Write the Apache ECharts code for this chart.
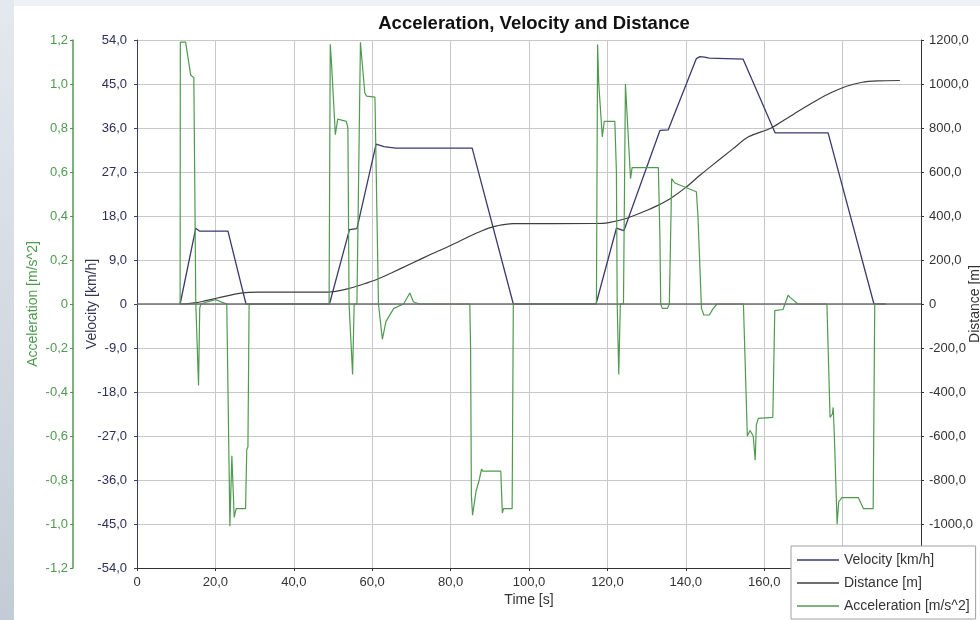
<!DOCTYPE html>
<html><head><meta charset="utf-8">
<script src="https://cdn.jsdelivr.net/npm/echarts@6/dist/echarts.min.js"></script>
<style>html,body{margin:0;padding:0;background:#fff}#c{width:980px;height:620px}</style>
</head><body><div id="c"></div>
<script>
// ---- data: [time s, value] ----
const velocityPoints = [
  [11.0,0],[15.0,15.5],[16.0,14.9],[23.2,14.9],[27.8,0],[31,0],[49.1,0],
  [54.2,15.2],[56.1,15.4],[61.0,32.7],[63,32.2],[66,31.9],[85.5,31.9],[96.0,0],
  [117.1,0],[122.3,15.5],[124.2,15.0],[133.4,35.5],[135.5,35.6],[142.7,50.2],
  [143.6,50.6],[144.8,50.5],[146,50.3],[154.6,50.1],[162.8,35.0],[176.3,35.0],
  [188.0,0],[191,0]
];
const distancePoints = [
  [11,0],[13,2],[15,6],[17,13],[20,25],[23,37],[25,45],[27,51],[28.5,53],[31,54],
  [49,54],[52,62],[55,75],[58,92],[61,110],[65,142],[70,184],[75,226],[80,266],
  [85,309],[88,333],[91,352],[94,362],[96,365],[117,366],[120,369],[125,390],
  [130,425],[133.4,453],[136,478],[140,530],[143.6,585],[146,620],[152,705],
  [156,760],[161.8,800],[165,835],[169,880],[173,922],[177,960],[181,990],
  [185,1008],[189,1014],[194.6,1016]
];
const accelerationPoints = [
  [11.0,0],[11.05,1.19],[12.4,1.19],[13.7,1.04],[14.2,1.04],[14.5,1.03],[14.9,1.03],
  [15.0,0],[15.7,-0.37],[16.0,-0.02],[16.3,0],[18,0.01],[20,0.02],[22.9,0],
  [23.7,-1.01],[24.2,-0.69],[24.5,-0.69],[24.8,-0.97],[25.3,-0.93],[27.7,-0.93],
  [28.0,-0.66],[28.3,-0.65],[28.6,0],
  [49.0,0],[49.3,1.18],[49.6,1.1],[50.6,0.77],[51.2,0.84],[53.4,0.83],[53.8,0.80],
  [54.1,0],[55.0,-0.32],[55.4,0],[56.1,0],[57.0,1.19],[58.1,0.96],[58.6,0.945],
  [60.7,0.94],[61.6,0],[62.6,-0.16],[63.5,-0.08],[65.5,-0.02],[68,0],[69.6,0.05],
  [70.5,0.01],[72,0],
  [84.9,0],[85.1,-0.2],[85.3,-0.87],[85.6,-0.96],[86.5,-0.85],[87.3,-0.80],
  [87.9,-0.75],[88.2,-0.76],[92.8,-0.76],[93.2,-0.95],[93.5,-0.93],[95.7,-0.93],[96.0,0],
  [117.2,0],[117.5,1.18],[117.8,1.0],[118.7,0.76],[119.2,0.83],[121.9,0.83],
  [122.3,0.6],[122.5,0],[122.9,-0.32],[123.3,0],[124.1,0],[124.6,1.0],[125.9,0.57],
  [126.3,0.62],[133.0,0.62],[133.4,0.3],[133.6,0],[134,-0.02],[135.3,-0.02],
  [135.8,0],[136.4,0.57],[137.2,0.55],[142.7,0.51],[143.1,0.4],[144.0,-0.02],
  [144.6,-0.05],[146.0,-0.05],[147.0,-0.02],[148,0],
  [154.7,0],[155.7,-0.6],[156.4,-0.575],[157.2,-0.6],[157.7,-0.71],[158.0,-0.55],
  [158.5,-0.52],[162.2,-0.515],[162.7,-0.03],[164.8,-0.025],[166.1,0.04],
  [166.6,0.03],[168.6,0],[176.0,0],[176.8,-0.515],[177.4,-0.5],[177.6,-0.47],
  [177.9,-0.6],[178.6,-1.0],[179.0,-0.9],[179.8,-0.88],[184.0,-0.88],[185.3,-0.93],
  [187.8,-0.93],[188.2,0],[191,0]
];
const seriesNames = ['Velocity [km/h]','Distance [m]','Acceleration [m/s^2]'];
const timeRange = [0, 200, 20];
const velocityRange = [-54, 54, 9];
const accelRange = [-1.2, 1.2, 0.2];
const distanceRange = [-1200, 1200, 200];

const fmt = v => Math.abs(v) < 1e-9 ? '0' : v.toFixed(1).replace('.', ',');
const FONT = '"Liberation Sans", Arial, sans-serif';
const cVel = '#3a3a6e', cDist = '#3e3e3e', cAcc = '#4f9a4f';

const chart = echarts.init(document.getElementById('c'), null, {renderer:'canvas'});
chart.setOption({
  backgroundColor: '#ffffff',
  animation: false,
  textStyle: {fontFamily: FONT},
  graphic: [
    {type:'rect', z:-10, shape:{x:0,y:0,width:14,height:620},
     style:{fill:new echarts.graphic.LinearGradient(0,0,0,1,[{offset:0,color:'#e4e9ef'},{offset:1,color:'#c3ccd6'}])}},
    {type:'rect', z:-10, shape:{x:14,y:0,width:966,height:6}, style:{fill:'#eef2f6'}}
  ],
  title: {
    text: 'Acceleration, Velocity and Distance', left: 529, top: 9, textAlign: 'center',
    textStyle: {fontFamily: FONT, fontSize: 18.5, fontWeight: 'bold', color: '#111'}
  },
  legend: {
    orient: 'vertical', left: 791, top: 546, icon: 'rect', itemWidth: 42, itemHeight: 1.5, itemGap: 9,
    padding: [7, 6, 6, 6], backgroundColor: '#fff', borderColor: '#a0a0a0', borderWidth: 1,
    textStyle: {fontFamily: FONT, fontSize: 14, color: '#333'}, data: seriesNames, z: 10
  },
  grid: {left: 137, right: 59, top: 40, bottom: 52, containLabel: false, outerBoundsMode: 'none'},
  xAxis: {
    type: 'value', min: timeRange[0], max: timeRange[1], interval: timeRange[2],
    name: 'Time [s]', nameLocation: 'middle', nameGap: 25, nameMoveOverlap: false,
    nameTextStyle: {fontFamily: FONT, fontSize: 14, color: '#333'},
    axisLine: {onZero: false, lineStyle: {color: '#333', width: 1}},
    axisTick: {show: true, length: 3, lineStyle: {color: '#333'}},
    axisLabel: {formatter: fmt, margin: 8, fontFamily: FONT, fontSize: 13, color: '#333'},
    splitLine: {show: true, lineStyle: {color: '#c8c8c8', width: 1}}
  },
  yAxis: [
    {
      type: 'value', position: 'left', min: velocityRange[0], max: velocityRange[1], interval: velocityRange[2],
      name: 'Velocity [km/h]', nameLocation: 'middle', nameGap: 38, nameMoveOverlap: false,
      nameTextStyle: {fontFamily: FONT, fontSize: 14, color: '#333355'},
      axisLine: {show: true, onZero: false, lineStyle: {color: cVel, width: 1}},
      axisTick: {show: true, length: 3, lineStyle: {color: cVel}},
      axisLabel: {formatter: fmt, margin: 10, fontFamily: FONT, fontSize: 13, color: '#2e2e5c'},
      splitLine: {show: true, lineStyle: {color: '#c8c8c8', width: 1}}
    },
    {
      type: 'value', position: 'left', offset: 64, min: accelRange[0], max: accelRange[1], interval: accelRange[2],
      name: 'Acceleration [m/s^2]', nameLocation: 'middle', nameGap: 33, nameMoveOverlap: false,
      nameTextStyle: {fontFamily: FONT, fontSize: 14, color: cAcc},
      axisLine: {show: true, onZero: false, lineStyle: {color: cAcc, width: 1.5}},
      axisTick: {show: true, length: 3, lineStyle: {color: cAcc}},
      axisLabel: {formatter: fmt, margin: 5, fontFamily: FONT, fontSize: 13, color: cAcc},
      splitLine: {show: false}
    },
    {
      type: 'value', position: 'right', min: distanceRange[0], max: distanceRange[1], interval: distanceRange[2],
      name: 'Distance [m]', nameLocation: 'middle', nameGap: 47, nameMoveOverlap: false,
      nameTextStyle: {fontFamily: FONT, fontSize: 14, color: '#333'},
      axisLine: {show: true, onZero: false, lineStyle: {color: '#333', width: 1}},
      axisTick: {show: true, length: 3, lineStyle: {color: '#333'}},
      axisLabel: {formatter: fmt, margin: 8, fontFamily: FONT, fontSize: 13, color: '#333'},
      splitLine: {show: false}
    }
  ],
  series: [
    {
      name: seriesNames[0], type: 'line', yAxisIndex: 0, data: velocityPoints,
      symbol: 'none', lineStyle: {color: cVel, width: 1.3}, itemStyle: {color: cVel}, z: 3,
      markLine: {silent: true, symbol: 'none', label: {show: false},
        lineStyle: {color: '#6f6f6f', width: 1.6, type: 'solid'}, data: [{yAxis: 0}]}
    },
    {
      name: seriesNames[1], type: 'line', yAxisIndex: 2, data: distancePoints, smooth: 0.3,
      symbol: 'none', lineStyle: {color: cDist, width: 1.2}, itemStyle: {color: cDist}, z: 3
    },
    {
      name: seriesNames[2], type: 'line', yAxisIndex: 1, data: accelerationPoints,
      symbol: 'none', lineStyle: {color: cAcc, width: 1.2}, itemStyle: {color: cAcc}, z: 4
    }
  ]
});
</script></body></html>
